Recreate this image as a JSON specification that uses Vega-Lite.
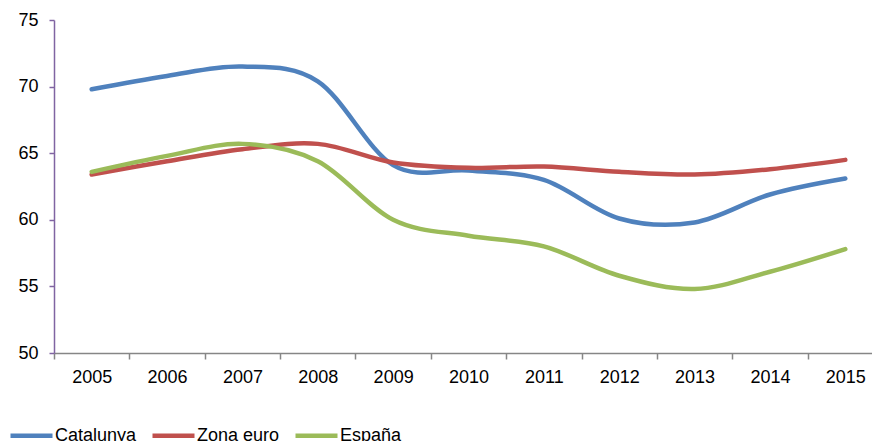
{
  "$schema": "https://vega.github.io/schema/vega-lite/v6.json",
  "autosize": {"type": "none"},
  "width": 818,
  "height": 333,
  "padding": {"left": 54, "top": 20, "right": 0, "bottom": 88},
  "background": "white",
  "config": {
    "view": {"stroke": null},
    "font": "Liberation Sans"
  },
  "data": {
    "values": [
      {"year": "2005", "series": "Catalunya", "value": 69.8},
      {"year": "2006", "series": "Catalunya", "value": 70.8},
      {"year": "2007", "series": "Catalunya", "value": 71.5},
      {"year": "2008", "series": "Catalunya", "value": 70.4},
      {"year": "2009", "series": "Catalunya", "value": 64.1},
      {"year": "2010", "series": "Catalunya", "value": 63.7},
      {"year": "2011", "series": "Catalunya", "value": 63.0},
      {"year": "2012", "series": "Catalunya", "value": 60.1},
      {"year": "2013", "series": "Catalunya", "value": 59.8},
      {"year": "2014", "series": "Catalunya", "value": 61.9},
      {"year": "2015", "series": "Catalunya", "value": 63.1},
      {"year": "2005", "series": "Zona euro", "value": 63.4},
      {"year": "2006", "series": "Zona euro", "value": 64.4},
      {"year": "2007", "series": "Zona euro", "value": 65.3},
      {"year": "2008", "series": "Zona euro", "value": 65.7},
      {"year": "2009", "series": "Zona euro", "value": 64.3},
      {"year": "2010", "series": "Zona euro", "value": 63.9},
      {"year": "2011", "series": "Zona euro", "value": 64.0},
      {"year": "2012", "series": "Zona euro", "value": 63.6},
      {"year": "2013", "series": "Zona euro", "value": 63.4},
      {"year": "2014", "series": "Zona euro", "value": 63.8},
      {"year": "2015", "series": "Zona euro", "value": 64.5},
      {"year": "2005", "series": "España", "value": 63.6},
      {"year": "2006", "series": "España", "value": 64.8},
      {"year": "2007", "series": "España", "value": 65.7},
      {"year": "2008", "series": "España", "value": 64.4},
      {"year": "2009", "series": "España", "value": 60.0},
      {"year": "2010", "series": "España", "value": 58.8},
      {"year": "2011", "series": "España", "value": 58.0},
      {"year": "2012", "series": "España", "value": 55.8},
      {"year": "2013", "series": "España", "value": 54.8},
      {"year": "2014", "series": "España", "value": 56.1},
      {"year": "2015", "series": "España", "value": 57.8}
    ]
  },
  "mark": {"type": "line", "interpolate": "cardinal", "strokeWidth": 4.5, "strokeCap": "round"},
  "encoding": {
    "x": {
      "field": "year",
      "type": "ordinal",
      "scale": {"type": "band", "range": [0, 829], "paddingInner": 0, "paddingOuter": 0},
      "axis": {
        "title": null,
        "labelAngle": 0,
        "labelFontSize": 18,
        "labelColor": "#000000",
        "labelPadding": 9,
        "tickBand": "extent",
        "tickSize": 6,
        "tickColor": "#868686",
        "domainColor": "#868686",
        "domainWidth": 1.5,
        "tickWidth": 1.5,
        "grid": false
      }
    },
    "y": {
      "field": "value",
      "type": "quantitative",
      "scale": {"domain": [50, 75], "nice": false, "zero": false},
      "axis": {
        "title": null,
        "values": [50, 55, 60, 65, 70, 75],
        "labelFontSize": 18,
        "labelColor": "#000000",
        "labelPadding": 11,
        "tickSize": 5,
        "tickColor": "#8064A2",
        "domainColor": "#8064A2",
        "domainWidth": 1.5,
        "tickWidth": 1.5,
        "grid": false
      }
    },
    "color": {
      "field": "series",
      "type": "nominal",
      "sort": ["Catalunya", "Zona euro", "España"],
      "scale": {"domain": ["Catalunya", "Zona euro", "España"], "range": ["#4F81BD", "#C0504D", "#9BBB59"]},
      "legend": {
        "title": null,
        "orient": "none",
        "direction": "horizontal",
        "legendX": -46,
        "legendY": 392,
        "symbolType": "stroke",
        "symbolSize": 1764,
        "symbolStrokeWidth": 4.5,
        "labelFontSize": 18,
        "labelColor": "#000000",
        "labelOffset": 0,
        "columnPadding": 6
      }
    }
  }
}
